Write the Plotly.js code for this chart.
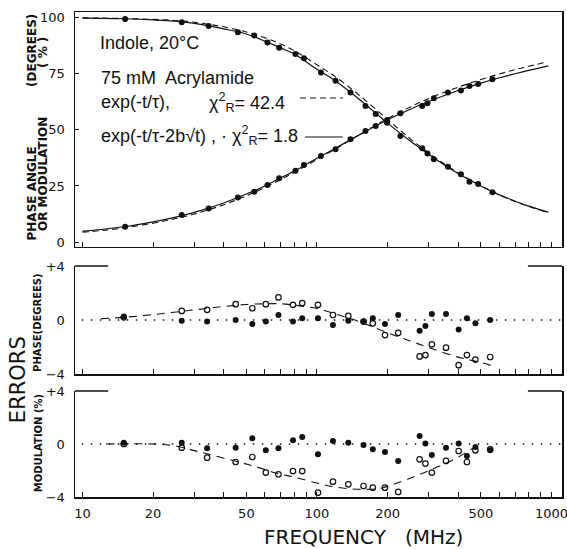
<!DOCTYPE html>
<html><head><meta charset="utf-8">
<script src="https://cdn.plot.ly/plotly-3.0.1.min.js"></script>
<style>html,body{margin:0;padding:0;background:#fff;} #chart{width:567px;height:549px;}</style>
</head><body><div id="chart"></div>
<script>
// ---- Top panel: measured data (frequency in MHz) ----
const freq = [15.2, 26.5, 34.5, 46, 54, 61.5, 69, 81, 88, 104, 120, 139, 161, 178, 199, 227, 281, 296, 315, 362, 411, 447, 487, 560];
const phaseData = [6.8, 12.0, 15.0, 19.8, 22.4, 25.4, 28.4, 31.8, 34.3, 38.3, 41.3, 45.8, 49.5, 51.7, 54.4, 57.4, 60.6, 61.8, 64.1, 66.6, 67.5, 69.5, 70.4, 72.5];
const modData = [99.4, 97.9, 96.3, 93.5, 92.0, 88.9, 86.6, 83.8, 81.9, 75.5, 71.9, 66.6, 60.6, 57.1, 53.2, 47.3, 41.8, 39.5, 36.9, 33.6, 30.2, 26.9, 25.9, 22.2];

// ---- Top panel: fitted curves ----
const fitFreq2 = [10, 12, 15, 20, 25, 30, 40, 50, 60, 70, 80, 100, 120, 150, 200, 250, 300, 400, 500, 600, 700, 800, 970];
const phaseFit2 = [4.9, 5.6, 6.8, 9.0, 11.1, 13.2, 17.4, 21.4, 25.0, 28.6, 31.6, 37.3, 41.8, 47.5, 54.5, 59.2, 62.6, 67.5, 70.8, 73.2, 75.0, 76.5, 78.5];
const modFit2 = [99.8, 99.7, 99.5, 99.0, 98.4, 97.4, 95.0, 92.7, 89.5, 86.5, 83.8, 77.0, 71.8, 64.0, 53.0, 45.0, 39.0, 30.5, 25.0, 21.0, 18.2, 16.0, 13.3];
const fitFreq1 = [10, 12, 15, 20, 25, 30, 40, 50, 60, 70, 80, 100, 120, 150, 200, 250, 300, 400, 500, 600, 700, 800, 935];
const phaseFit1 = [4.4, 5.1, 6.3, 8.4, 10.5, 12.5, 16.6, 20.6, 24.3, 27.9, 31.0, 36.8, 41.5, 47.5, 55.0, 60.2, 64.0, 69.0, 72.4, 74.9, 76.8, 78.3, 80.0];
const modFit1 = [99.9, 99.8, 99.6, 99.2, 98.7, 97.9, 95.9, 93.6, 91.0, 88.2, 85.3, 79.0, 73.6, 65.8, 54.6, 46.0, 39.6, 30.8, 25.1, 21.0, 18.1, 15.9, 13.6];

// ---- Error panels ----
const freqErr = [15, 26.5, 34, 45, 53, 60.5, 68.5, 79, 86.5, 101, 117, 136, 158, 173, 195, 222, 274, 290, 309, 355, 402, 436, 474, 548];
const phaseErr2 = [0.25, -0.05, -0.12, 0.0, -0.3, -0.12, 0.37, -0.12, 0.12, 0.12, -0.37, -0.05, -0.12, 0.12, -0.3, 0.37, -0.8, -0.45, 0.45, 0.45, -0.7, 0.12, -0.25, 0.0];
const phaseErr1 = [0.2, 0.67, 0.75, 1.17, 0.87, 1.17, 1.67, 1.12, 1.25, 1.12, 0.37, 0.3, -0.12, -0.25, -1.12, -0.95, -2.7, -2.6, -1.8, -2.05, -3.35, -2.6, -2.93, -2.74];
const modErr2 = [0.1, 0.1, -0.33, -0.28, 0.43, -0.48, -0.33, 0.28, 0.53, -0.78, 0.23, 0.1, -0.08, -0.4, -0.6, -1.28, 0.6, 0.03, -0.83, -0.28, 0.03, -0.9, -0.23, -0.48];
const modErr1 = [0.0, -0.28, -1.03, -1.36, -0.98, -2.16, -2.29, -2.04, -2.04, -3.67, -2.84, -3.04, -3.17, -3.3, -3.3, -3.62, -1.16, -1.48, -2.16, -1.28, -0.53, -1.36, -0.48, -0.4];
const phaseErrFitF = [12, 15, 20, 30, 40, 50, 60, 70, 80, 100, 120, 150, 200, 250, 300, 400, 500, 560];
const phaseErrFit = [0.1, 0.2, 0.4, 0.75, 1.0, 1.15, 1.2, 1.2, 1.1, 0.85, 0.45, -0.1, -0.95, -1.55, -2.05, -2.75, -3.15, -3.4];
const modErrFitF = [12.6, 20, 25, 30, 35, 44, 55, 67, 80, 100, 120, 150, 185, 215, 265, 320, 390, 455, 495];
const modErrFit = [0.0, 0.0, -0.15, -0.5, -0.8, -1.25, -1.72, -2.2, -2.5, -2.95, -3.25, -3.42, -3.35, -3.0, -2.4, -1.8, -1.1, -0.4, -0.05];

// ---- Ticks ----
const xTickVals = [10, 20, 50, 100, 200, 500, 1000];
const xTickText = ['10', '20', '50', '100', '200', '500', '1000'];
const xMinorVals = [30, 40, 60, 70, 80, 90, 300, 400, 600, 700, 800, 900];
const topTickVals = [0, 25, 50, 75, 100];
const errTickVals = [-4, 0, 4];
const errTickText = ['\u22124', '0', '+4'];

const INK = '#111111';
const solid = {color: INK, width: 1.2, shape: 'spline'};
const dashTop = {color: INK, width: 1.1, dash: '6px,4px', shape: 'spline'};
const dashErr = {color: INK, width: 1.1, dash: '8px,6px', shape: 'spline'};
const dot = {color: INK, size: 6, symbol: 'circle'};
const openDot = {color: INK, size: 5.5, symbol: 'circle-open', line: {color: INK, width: 1.2}};

const traces = [
  {x: fitFreq1, y: phaseFit1, mode: 'lines', line: dashTop, xaxis: 'x', yaxis: 'y'},
  {x: fitFreq1, y: modFit1, mode: 'lines', line: dashTop, xaxis: 'x', yaxis: 'y'},
  {x: fitFreq2, y: phaseFit2, mode: 'lines', line: solid, xaxis: 'x', yaxis: 'y'},
  {x: fitFreq2, y: modFit2, mode: 'lines', line: solid, xaxis: 'x', yaxis: 'y'},
  {x: freq, y: phaseData, mode: 'markers', marker: dot, xaxis: 'x', yaxis: 'y'},
  {x: freq, y: modData, mode: 'markers', marker: dot, xaxis: 'x', yaxis: 'y'},

  {x: phaseErrFitF, y: phaseErrFit, mode: 'lines', line: dashErr, xaxis: 'x2', yaxis: 'y2'},
  {x: freqErr, y: phaseErr1, mode: 'markers', marker: openDot, xaxis: 'x2', yaxis: 'y2'},
  {x: freqErr, y: phaseErr2, mode: 'markers', marker: dot, xaxis: 'x2', yaxis: 'y2'},

  {x: modErrFitF, y: modErrFit, mode: 'lines', line: dashErr, xaxis: 'x3', yaxis: 'y3'},
  {x: freqErr, y: modErr1, mode: 'markers', marker: openDot, xaxis: 'x3', yaxis: 'y3'},
  {x: freqErr, y: modErr2, mode: 'markers', marker: dot, xaxis: 'x3', yaxis: 'y3'}
];

const xCommon = {type: 'log', range: [0.968, 3.045], showline: true, linecolor: INK, linewidth: 1.5,
  ticks: 'inside', ticklen: 5, tickwidth: 1, tickcolor: INK, tickmode: 'array', tickvals: xTickVals, ticktext: xTickText,
  minor: {tickmode: 'array', tickvals: xMinorVals, ticks: 'inside', ticklen: 5, tickwidth: 1, tickcolor: INK, showgrid: false},
  showgrid: false, zeroline: false, domain: [0, 1]};
const yCommon = {showline: true, linecolor: INK, linewidth: 1.5, mirror: true, showgrid: false, zeroline: false,
  tickfont: {family: 'DejaVu Sans', size: 13, color: INK}, ticklabelstandoff: 6, tickmode: 'array'};

const tickFont = {family: 'DejaVu Sans', size: 13, color: INK};
const annFont = {family: 'Liberation Sans', size: 18, color: INK};
const axFont = {family: 'DejaVu Sans', size: 12, color: INK, weight: 'bold'};
const smallFont = {family: 'DejaVu Sans', size: 10, color: INK, weight: 'bold'};
const bigFont = {family: 'DejaVu Sans', size: 20, color: INK};

const layout = {
  width: 567, height: 549,
  margin: {l: 75, r: 5, t: 12, b: 52},
  paper_bgcolor: '#ffffff', plot_bgcolor: '#ffffff',
  font: {family: 'DejaVu Sans', color: INK},
  showlegend: false,
  xaxis: Object.assign({}, xCommon, {anchor: 'y', mirror: true, showticklabels: false}),
  xaxis2: Object.assign({}, xCommon, {anchor: 'y2', showticklabels: false}),
  xaxis3: Object.assign({}, xCommon, {anchor: 'y3', tickfont: tickFont, ticklabelstandoff: 4, ticklabeloverflow: 'allow'}),
  yaxis: Object.assign({}, yCommon, {anchor: 'x', domain: [0.5155, 1], range: [-2.2, 102.5], tickvals: topTickVals,
    ticks: 'inside', ticklen: 4, tickcolor: INK}),
  yaxis2: Object.assign({}, yCommon, {anchor: 'x2', domain: [0.2536, 0.4763], range: [-4, 4], tickvals: errTickVals, ticktext: errTickText, ticks: ''}),
  yaxis3: Object.assign({}, yCommon, {anchor: 'x3', domain: [0, 0.2186], range: [-4, 4], tickvals: errTickVals, ticktext: errTickText, ticks: ''}),
  shapes: [
    // legend samples
    {type: 'line', xref: 'paper', yref: 'paper', x0: 0.462, x1: 0.550, y0: 0.8227, y1: 0.8227, line: {color: INK, width: 1.1, dash: '6px,4px'}},
    {type: 'line', xref: 'paper', yref: 'paper', x0: 0.472, x1: 0.550, y0: 0.7423, y1: 0.7423, line: {color: INK, width: 1.2}},
    // dotted zero lines
    {type: 'line', xref: 'x2 domain', yref: 'y2', x0: 0.014, x1: 1, y0: 0, y1: 0, line: {color: INK, width: 1.5, dash: '1.5px,7.5px'}},
    {type: 'line', xref: 'x3 domain', yref: 'y3', x0: 0.014, x1: 1, y0: 0, y1: 0, line: {color: INK, width: 1.5, dash: '1.5px,7.5px'}},
    // top brackets of error panels
    {type: 'line', xref: 'x2 domain', yref: 'y2 domain', x0: 0, x1: 0.068, y0: 1, y1: 1, line: {color: INK, width: 1.5}},
    {type: 'line', xref: 'x2 domain', yref: 'y2 domain', x0: 0.93, x1: 1, y0: 1, y1: 1, line: {color: INK, width: 1.5}},
    {type: 'line', xref: 'x3 domain', yref: 'y3 domain', x0: 0, x1: 0.068, y0: 1, y1: 1, line: {color: INK, width: 1.5}},
    {type: 'line', xref: 'x3 domain', yref: 'y3 domain', x0: 0.93, x1: 1, y0: 1, y1: 1, line: {color: INK, width: 1.5}}
  ],
  annotations: [
    {text: 'Indole, 20°C', xref: 'paper', yref: 'paper', x: 0.047, y: 0.936, xanchor: 'left', yanchor: 'middle', showarrow: false, font: annFont},
    {text: '75 mM  Acrylamide', xref: 'paper', yref: 'paper', x: 0.049, y: 0.864, xanchor: 'left', yanchor: 'middle', showarrow: false, font: annFont},
    {text: 'exp(-t/τ),', xref: 'paper', yref: 'paper', x: 0.049, y: 0.814, xanchor: 'left', yanchor: 'middle', showarrow: false, font: annFont},
    {text: 'χ<sup>2</sup><sub>R</sub>= 42.4', xref: 'paper', yref: 'paper', x: 0.271, y: 0.814, xanchor: 'left', yanchor: 'middle', showarrow: false, font: annFont},
    {text: 'exp(-t/τ-2b√t) , · χ<sup>2</sup><sub>R</sub>= 1.8', xref: 'paper', yref: 'paper', x: 0.049, y: 0.746, xanchor: 'left', yanchor: 'middle', showarrow: false, font: annFont},

    {text: 'PHASE ANGLE', textangle: -90, xref: 'paper', yref: 'paper', x: -0.0883, y: (497 - 193.5) / 485, xanchor: 'center', yanchor: 'middle', showarrow: false, font: axFont},
    {text: '(DEGREES)', textangle: -90, xref: 'paper', yref: 'paper', x: -0.0883, y: (497 - 50) / 485, xanchor: 'center', yanchor: 'middle', showarrow: false, font: axFont},
    {text: 'OR MODULATION', textangle: -90, xref: 'paper', yref: 'paper', x: -0.0657, y: (497 - 174) / 485, xanchor: 'center', yanchor: 'middle', showarrow: false, font: axFont},
    {text: '( % )', textangle: -90, xref: 'paper', yref: 'paper', x: -0.0657, y: (497 - 53) / 485, xanchor: 'center', yanchor: 'middle', showarrow: false, font: axFont},

    {text: 'ERRORS', textangle: -90, xref: 'paper', yref: 'paper', x: -0.117, y: 0.241, xanchor: 'center', yanchor: 'middle', showarrow: false, font: {family: 'DejaVu Sans', size: 21, color: INK}},
    {text: 'PHASE(DEGREES)', textangle: -90, xref: 'paper', yref: 'paper', x: -0.076, y: 0.361, xanchor: 'center', yanchor: 'middle', showarrow: false, font: smallFont},
    {text: 'MODULATION (%)', textangle: -90, xref: 'paper', yref: 'paper', x: -0.076, y: 0.111, xanchor: 'center', yanchor: 'middle', showarrow: false, font: smallFont},

    {text: 'FREQUENCY   (MHz)', xref: 'paper', yref: 'paper', x: 0.592, y: -0.082, xanchor: 'center', yanchor: 'middle', showarrow: false, font: bigFont}
  ]
};

Plotly.newPlot('chart', traces, layout, {staticPlot: true, displayModeBar: false});
</script>
</body></html>
